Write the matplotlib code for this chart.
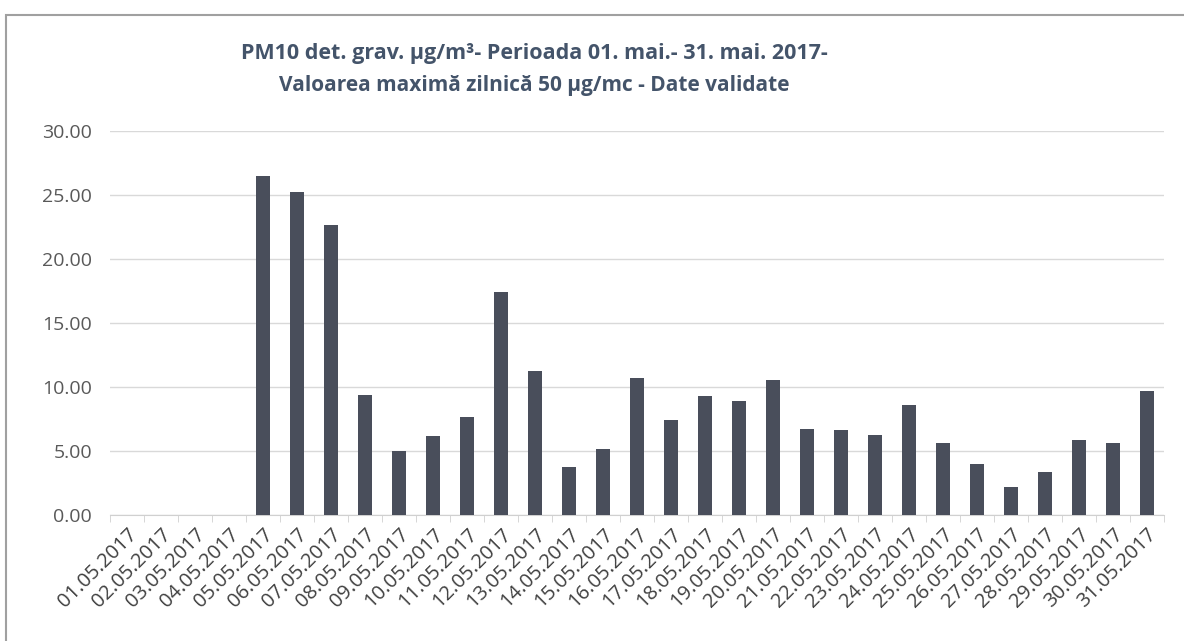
import numpy as np
import matplotlib.pyplot as plt
from matplotlib.patches import Rectangle

days = ['%02d.05.2017' % d for d in range(1, 32)]
pm10 = [0, 0, 0, 0, 26.5, 25.25, 22.6, 9.35, 5.0, 6.15, 7.6, 17.4, 11.2,
        3.7, 5.1, 10.7, 7.4, 9.3, 8.9, 10.5, 6.7, 6.65, 6.2, 8.6,
        5.6, 4.0, 2.2, 3.3, 5.8, 5.6, 9.7]
yticks = [0, 5, 10, 15, 20, 25, 30]

plt.rcParams['font.family'] = ['Open Sans', 'DejaVu Sans']

fig = plt.figure(figsize=(11.84, 6.41), dpi=100)
ax = fig.add_axes([0.093, 0.197, 0.890, 0.599])

# outer chart frame
fig.patches.append(Rectangle((0.005, -0.1), 1.1, 1.077, transform=fig.transFigure,
                             fill=False, edgecolor='#a0a0a0', linewidth=1.5))

x = np.arange(len(days))
ax.bar(x, pm10, width=0.4, color='#494e5b', zorder=3)

ax.set_xlim(-0.5, len(days) - 0.5)
ax.set_ylim(0, 30)
ax.set_yticks(yticks)
ax.set_yticklabels(['%.2f' % v for v in yticks], fontsize=14, color='#595959')
ax.yaxis.grid(True, color='#d9d9d9', linewidth=1, zorder=0)
ax.tick_params(axis='y', length=0, pad=13)

ax.set_xticks(x)
ax.set_xticklabels(days, rotation=45, ha='right', rotation_mode='anchor',
                   fontsize=14.5, color='#404040')
ax.tick_params(axis='x', length=0, pad=7)
ax.set_xticks(np.arange(-0.5, len(days), 1), minor=True)
ax.tick_params(axis='x', which='minor', length=5, color='#d0d0d0')

for s in ['top', 'right', 'left']:
    ax.spines[s].set_visible(False)
ax.spines['bottom'].set_color('#d0d0d0')

fig.text(0.451, 0.916, 'PM10 det. grav. µg/m³- Perioada 01. mai.- 31. mai. 2017-',
         ha='center', va='center', fontsize=15.5, fontweight='bold', color='#44546a')
fig.text(0.451, 0.866, 'Valoarea maximă zilnică 50 µg/mc - Date validate',
         ha='center', va='center', fontsize=15, fontweight='bold', color='#44546a')

fig.savefig('out.png', dpi=100)
